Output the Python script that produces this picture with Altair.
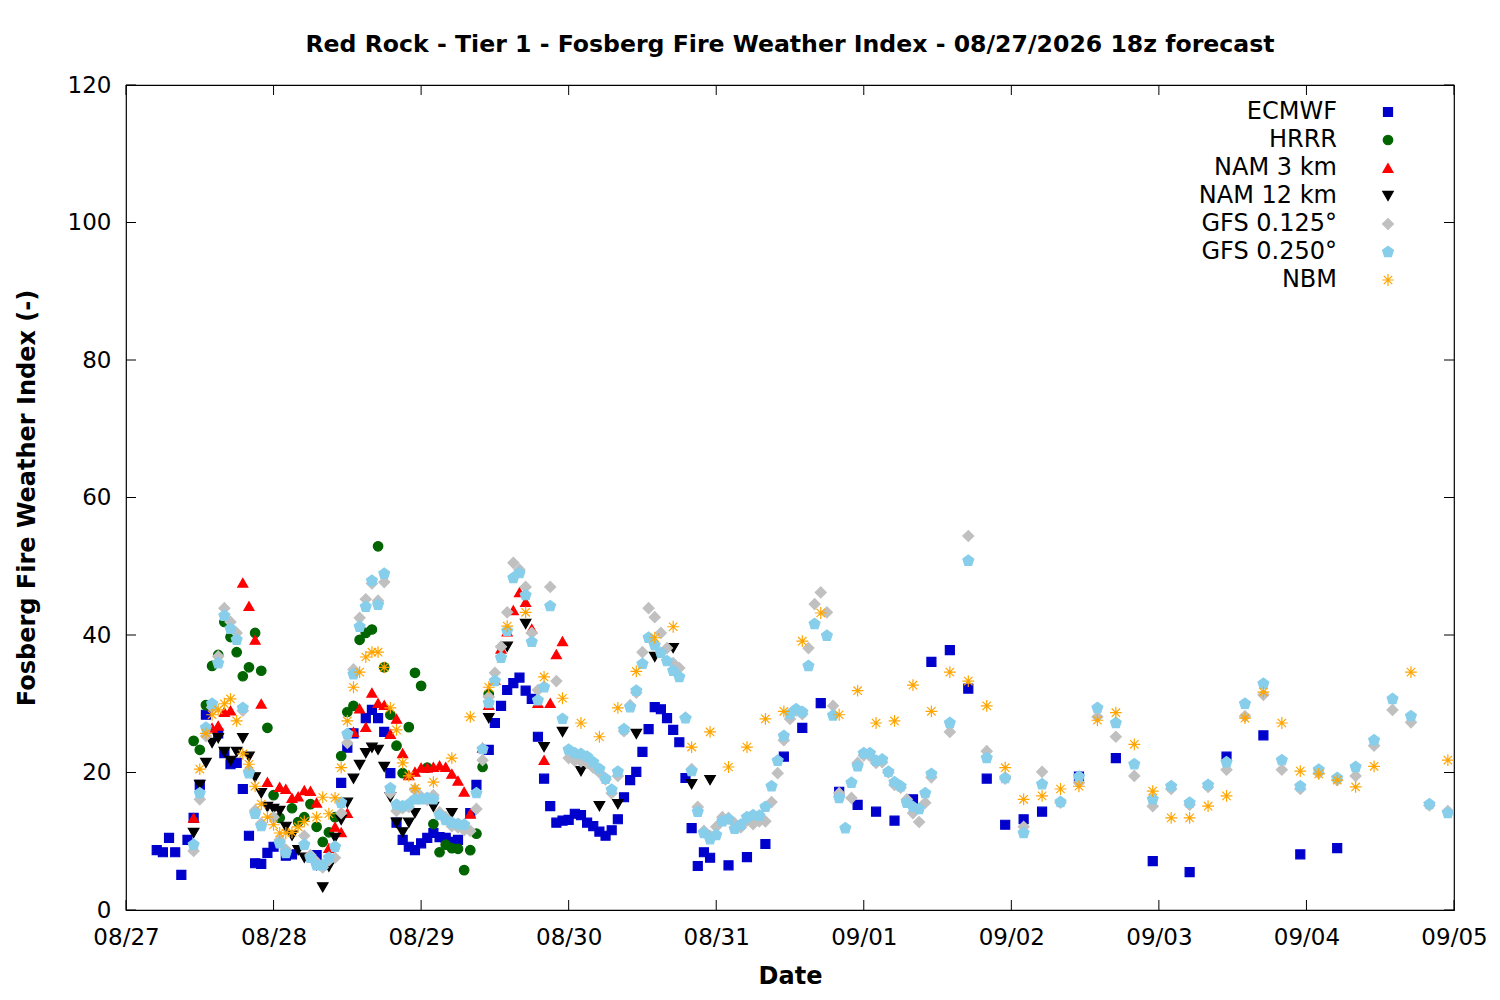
import pandas as pd
import altair as alt

# forecast hour (from 08/27 00z) and Fosberg index
ecmwf = [
    (5, 8.7), (6, 8.4), (7, 10.5), (8, 8.4), (9, 5.1), (10, 10.2), (11, 13.4), (12, 18.2),
    (13, 28.4), (15, 25.7), (16, 22.8), (17, 21.2), (18, 21.4), (19, 17.6), (20, 10.8),
    (21, 6.8), (22, 6.7), (23, 8.3), (24, 9.2), (26, 7.9), (27, 8.1), (31, 8.0), (35, 18.5),
    (36, 23.6), (37, 25.7), (39, 27.9), (40, 29.1), (41, 27.9), (42, 25.9), (43, 19.9),
    (44, 12.7), (45, 10.2), (46, 9.2), (47, 8.7), (48, 9.7), (49, 10.5), (50, 11.2), (51, 10.6),
    (52, 10.5), (53, 9.9), (54, 10.2), (56, 14.1), (57, 18.2), (59, 23.3), (60, 27.2), (61, 29.7),
    (62, 32.0), (63, 33.0), (64, 33.8), (65, 31.9), (66, 30.7), (67, 25.2), (68, 19.1), (69, 15.1),
    (70, 12.7), (71, 13.0), (72, 13.1), (73, 14.0), (74, 13.8), (75, 12.7), (76, 12.2), (77, 11.4),
    (78, 10.8), (79, 11.6), (80, 13.2), (81, 16.4), (82, 18.9), (83, 20.1), (84, 23.0), (85, 26.3),
    (86, 29.5), (87, 29.2), (88, 27.9), (89, 26.2), (90, 24.4), (91, 19.2), (92, 11.9), (93, 6.4),
    (94, 8.4), (95, 7.6), (98, 6.5), (101, 7.7), (104, 9.6), (107, 22.3), (110, 26.5), (113, 30.1),
    (116, 17.2), (119, 15.3), (122, 14.3), (125, 13.0), (128, 16.1), (131, 36.1), (134, 37.8),
    (137, 32.2), (140, 19.1), (143, 12.4), (146, 13.2), (149, 14.3), (155, 19.4), (161, 22.1),
    (167, 7.1), (173, 5.5), (179, 22.3), (185, 25.4), (191, 8.1), (197, 9.0),
]

hrrr = [
    (11, 24.6), (12, 23.3), (13, 29.8), (14, 35.5), (15, 37.1), (16, 41.9), (17, 39.7), (18, 37.5),
    (19, 34.0), (20, 35.3), (21, 40.3), (22, 34.8), (23, 26.5), (24, 16.7), (25, 13.4), (27, 14.8),
    (28, 12.8), (29, 13.5), (30, 15.4), (31, 12.1), (32, 9.9), (33, 11.3), (34, 13.5), (35, 22.4),
    (36, 28.8), (37, 29.7), (38, 39.3), (39, 40.3), (40, 40.8), (41, 52.9), (42, 35.3), (43, 28.4),
    (44, 23.9), (45, 19.9), (46, 26.6), (47, 34.5), (48, 32.6), (49, 20.7), (50, 12.5), (51, 8.4),
    (52, 9.5), (53, 9.0), (54, 8.9), (55, 5.8), (56, 8.7), (57, 11.1), (58, 20.8), (59, 31.4),
]

nam3 = [
    (11, 13.4), (14, 26.5), (15, 26.8), (16, 28.8), (17, 29.0), (19, 47.6), (20, 44.2), (21, 39.3),
    (22, 30.0), (23, 18.6), (25, 17.9), (26, 17.6), (27, 16.3), (28, 16.5), (29, 17.4), (30, 17.3),
    (31, 15.6), (33, 9.0), (34, 12.1), (35, 11.3), (36, 14.1), (37, 25.9), (38, 29.3), (39, 26.6),
    (40, 31.6), (41, 30.1), (42, 29.8), (43, 25.6), (44, 27.8), (45, 22.8), (46, 19.6), (47, 20.1),
    (48, 20.7), (49, 20.7), (50, 20.8), (51, 21.0), (52, 20.8), (53, 19.8), (54, 18.8), (55, 17.2),
    (56, 14.0), (58, 23.6), (59, 29.8), (60, 33.5), (61, 38.0), (62, 40.5), (63, 43.6), (64, 46.2),
    (65, 44.8), (66, 40.9), (67, 30.1), (68, 21.8), (69, 30.1), (70, 37.2), (71, 39.1),
]

nam12 = [
    (11, 11.2), (12, 18.2), (13, 21.4), (14, 24.3), (15, 25.0), (16, 23.0), (17, 21.7), (18, 23.0),
    (19, 25.0), (20, 22.3), (21, 19.3), (22, 17.0), (23, 15.0), (24, 14.7), (25, 14.4), (26, 12.1),
    (27, 10.8), (28, 8.7), (29, 7.6), (31, 6.5), (32, 3.3), (33, 6.3), (34, 10.5), (35, 13.1),
    (36, 15.6), (37, 19.1), (38, 21.1), (39, 22.8), (40, 23.6), (41, 23.3), (42, 20.8), (43, 16.4),
    (44, 12.7), (45, 11.3), (46, 12.7), (47, 14.1), (50, 15.0), (53, 14.1), (59, 27.9), (62, 38.3),
    (65, 41.6), (68, 23.7), (71, 25.9), (74, 20.2), (77, 15.1), (80, 15.4), (83, 25.6), (86, 36.8),
    (89, 38.1), (92, 18.3), (95, 18.9),
]

gfs0125 = [
    (11, 8.6), (12, 16.1), (13, 25.3), (14, 29.5), (15, 36.9), (16, 43.9), (17, 41.9), (18, 40.3),
    (19, 29.0), (20, 20.3), (21, 14.5), (22, 12.6), (24, 13.5), (25, 10.2), (26, 8.8), (29, 10.8),
    (30, 8.0), (31, 7.0), (32, 6.2), (33, 7.2), (34, 7.6), (35, 14.1), (36, 24.3), (37, 35.0),
    (38, 42.5), (39, 45.2), (40, 47.5), (41, 45.0), (42, 47.7), (43, 17.0), (44, 14.4), (45, 14.8),
    (46, 15.0), (47, 17.5), (48, 16.5), (49, 16.0), (50, 16.7), (51, 14.2), (52, 13.5), (53, 12.2),
    (54, 12.0), (55, 11.6), (56, 11.5), (57, 14.7), (58, 21.8), (59, 31.0), (60, 34.5), (61, 38.3),
    (62, 43.3), (63, 50.5), (64, 49.5), (65, 47.0), (66, 40.3), (67, 32.0), (69, 47.0), (70, 33.3),
    (72, 22.1), (73, 21.7), (74, 21.6), (75, 21.4), (76, 20.7), (77, 20.0), (78, 19.0), (79, 17.0),
    (80, 19.5), (81, 26.0), (82, 29.8), (83, 31.6), (84, 37.5), (85, 43.9), (86, 42.6), (87, 40.3),
    (88, 38.1), (89, 35.9), (90, 35.2), (91, 28.0), (92, 20.5), (93, 15.0), (94, 11.5), (95, 10.8),
    (96, 12.1), (97, 13.5), (98, 13.4), (99, 12.6), (100, 12.0), (101, 13.0), (102, 12.5),
    (103, 12.9), (104, 12.9), (105, 15.7), (106, 19.9), (107, 24.7), (108, 27.8), (109, 29.0),
    (110, 28.5), (111, 38.1), (112, 44.5), (113, 46.2), (114, 43.3), (115, 29.7), (116, 17.0),
    (118, 16.3), (119, 21.4), (120, 22.5), (121, 22.4), (122, 21.4), (123, 21.5), (124, 20.0),
    (125, 18.2), (126, 17.8), (127, 16.1), (128, 14.1), (129, 12.8), (130, 15.6), (131, 19.3),
    (134, 25.9), (137, 54.4), (140, 23.1), (143, 19.1), (146, 12.1), (149, 20.1), (152, 15.6),
    (155, 18.5), (158, 28.1), (161, 25.2), (164, 19.5), (167, 15.1), (170, 17.6), (173, 15.3),
    (176, 17.9), (179, 20.4), (182, 28.2), (185, 31.3), (188, 20.4), (191, 17.6), (194, 19.9),
    (197, 18.9), (200, 19.5), (203, 23.9), (206, 29.1), (209, 27.3), (212, 15.2), (215, 14.4),
]

gfs0250 = [
    (11, 9.5), (12, 17.0), (13, 26.5), (14, 30.0), (15, 35.9), (16, 42.8), (17, 40.9), (18, 39.3),
    (19, 29.4), (20, 19.9), (21, 14.0), (22, 12.2), (25, 9.7), (26, 8.3), (29, 9.5), (30, 7.6),
    (31, 6.5), (32, 6.5), (33, 7.6), (34, 9.2), (35, 15.6), (36, 25.6), (37, 34.3), (38, 41.2),
    (39, 44.1), (40, 47.9), (41, 44.4), (42, 48.9), (43, 17.7), (44, 15.3), (45, 15.1), (46, 15.4),
    (47, 16.1), (48, 16.1), (49, 16.3), (50, 16.1), (51, 13.8), (52, 13.1), (53, 12.7), (54, 12.5),
    (55, 12.4), (57, 17.0), (58, 23.4), (59, 30.1), (60, 33.3), (61, 36.7), (62, 40.6), (63, 48.3),
    (64, 49.0), (65, 45.8), (66, 39.0), (67, 30.5), (68, 32.4), (69, 44.2), (71, 27.8), (72, 23.3),
    (73, 22.8), (74, 22.7), (75, 22.3), (76, 21.5), (77, 20.5), (78, 19.1), (79, 17.5), (80, 20.1),
    (81, 26.3), (82, 29.5), (83, 31.9), (84, 35.8), (85, 39.6), (86, 38.5), (87, 37.4), (88, 36.2),
    (89, 34.8), (90, 33.9), (91, 27.9), (92, 20.2), (93, 14.3), (94, 11.2), (95, 10.3), (96, 10.9),
    (97, 12.9), (98, 13.2), (99, 11.8), (100, 12.4), (101, 13.5), (102, 13.8), (103, 13.7),
    (104, 15.0), (105, 18.0), (106, 21.7), (107, 25.3), (108, 28.5), (109, 29.2), (110, 28.8),
    (111, 35.5), (112, 41.6), (114, 39.9), (115, 28.3), (116, 16.3), (117, 11.9), (118, 18.5),
    (119, 20.9), (120, 22.8), (121, 22.8), (122, 21.7), (123, 21.9), (124, 20.1), (125, 18.6),
    (126, 18.0), (127, 15.6), (128, 15.0), (129, 14.7), (130, 17.0), (131, 19.8), (134, 27.2),
    (137, 50.8), (140, 22.1), (143, 19.2), (146, 11.2), (149, 18.3), (152, 15.7), (155, 19.4),
    (158, 29.4), (161, 27.2), (164, 21.2), (167, 16.1), (170, 18.0), (173, 15.6), (176, 18.2),
    (179, 21.5), (182, 30.0), (185, 32.9), (188, 21.8), (191, 18.0), (194, 20.4), (197, 19.2),
    (200, 20.8), (203, 24.7), (206, 30.7), (209, 28.2), (212, 15.4), (215, 14.1),
]

nbm = [
    (12, 20.5), (13, 25.7), (14, 28.4), (15, 29.1), (16, 30.0), (17, 30.7), (18, 27.5), (19, 22.7),
    (20, 21.2), (21, 18.0), (22, 15.4), (23, 13.5), (24, 12.4), (25, 11.2), (26, 11.2), (27, 11.3),
    (28, 12.1), (29, 12.9), (31, 13.5), (32, 16.4), (33, 14.0), (34, 16.3), (35, 20.7), (36, 27.5),
    (37, 32.4), (38, 34.6), (39, 36.8), (40, 37.5), (41, 37.5), (42, 35.3), (43, 29.4), (44, 26.2),
    (45, 21.4), (46, 19.5), (47, 17.7), (50, 18.6), (53, 22.1), (56, 28.1), (59, 32.4), (62, 41.3),
    (65, 43.3), (68, 33.9), (71, 30.8), (74, 27.2), (77, 25.2), (80, 29.4), (83, 34.7), (86, 39.6),
    (89, 41.2), (92, 23.7), (95, 25.9), (98, 20.8), (101, 23.7), (104, 27.8), (107, 28.9),
    (110, 39.1), (113, 43.2), (116, 28.4), (119, 31.9), (122, 27.2), (125, 27.5), (128, 32.7),
    (131, 28.9), (134, 34.6), (137, 33.3), (140, 29.7), (143, 20.7), (146, 16.1), (149, 16.6),
    (152, 17.6), (155, 18.0), (158, 27.6), (161, 28.7), (164, 24.1), (167, 17.3), (170, 13.4),
    (173, 13.4), (176, 15.1), (179, 16.6), (182, 27.9), (185, 31.7), (188, 27.2), (191, 20.2),
    (194, 19.8), (197, 18.9), (200, 17.9), (203, 20.9), (209, 34.6), (215, 21.8),
]

models = ["ECMWF", "HRRR", "NAM 3 km", "NAM 12 km", "GFS 0.125°", "GFS 0.250°", "NBM"]
series = [ecmwf, hrrr, nam3, nam12, gfs0125, gfs0250, nbm]
fills = ["#0000cd", "#006400", "#ff0000", "#000000", "#c0c0c0", "#87ceeb", "transparent"]
strokes = ["#0000cd", "#006400", "#ff0000", "#000000", "#c0c0c0", "#87ceeb", "#ffa500"]
pentagon = "M0,-1L0.951,-0.309L0.588,0.809L-0.588,0.809L-0.951,-0.309Z"
asterisk = "M-1,0L1,0M0,-1L0,1M-0.71,-0.71L0.71,0.71M-0.71,0.71L0.71,-0.71"
shapes = ["square", "circle", "triangle-up", "triangle-down", "diamond", pentagon, asterisk]
sizes = [81, 140, 170, 170, 130, 160, 260]

day_labels = ["08/27", "08/28", "08/29", "08/30", "08/31", "09/01", "09/02", "09/03", "09/04", "09/05"]
x_ticks = [24 * i for i in range(len(day_labels))]
y_ticks = [0, 20, 40, 60, 80, 100, 120]

rows = []
for i, (name, pts) in enumerate(zip(models, series)):
    for hour, val in pts:
        rows.append({"model": name, "idx": i, "hour": hour, "fwi": val})
df = pd.DataFrame(rows)
key = pd.DataFrame({"model": models, "idx": list(range(len(models)))})

W, H = 1328, 825
FONT = "DejaVu Sans"
x_scale = alt.Scale(domain=[0, 216], nice=False, zero=False)
y_scale = alt.Scale(domain=[0, 120], nice=False)
label_expr = "[" + ",".join(f"'{d}'" for d in day_labels) + "][round(datum.value / 24)]"
x_axis = alt.Axis(values=x_ticks, labelExpr=label_expr, ticks=False, tickSize=0,
                  labelFlush=False, labelBound=False, labelOverlap=False,
                  labelPadding=16, titlePadding=15, grid=False, domain=False)

fill_scale = alt.Scale(domain=models, range=fills)
stroke_scale = alt.Scale(domain=models, range=strokes)
shape_scale = alt.Scale(domain=models, range=shapes)
size_scale = alt.Scale(domain=models, range=sizes)

points = alt.Chart(df).mark_point(strokeWidth=1.2, opacity=1).encode(
    x=alt.X("hour:Q", scale=x_scale, title="Date", axis=x_axis),
    y=alt.Y("fwi:Q", scale=y_scale, title="Fosberg Fire Weather Index (-)",
            axis=alt.Axis(values=y_ticks, ticks=False, tickSize=0, labelPadding=15,
                          labelFlush=False, titlePadding=28, grid=False, domain=False)),
    fill=alt.Fill("model:N", scale=fill_scale, legend=None),
    stroke=alt.Stroke("model:N", scale=stroke_scale, legend=None),
    shape=alt.Shape("model:N", scale=shape_scale, legend=None),
    size=alt.Size("model:N", scale=size_scale, legend=None),
    order=alt.Order("idx:Q"),
)

# key in the top right corner, label to the left of its symbol as gnuplot draws it
key_y = alt.Y("idx:Q", scale=alt.Scale(domain=[0, 6], range=[27, 195]), axis=None)
key_text = alt.Chart(key).mark_text(
    align="right", baseline="middle", font=FONT, fontSize=24, color="black"
).encode(x=alt.value(1211), y=key_y, text="model:N")
key_symbols = alt.Chart(key).mark_point(strokeWidth=1.2, opacity=1).encode(
    x=alt.value(1262), y=key_y,
    fill=alt.Fill("model:N", scale=fill_scale, legend=None),
    stroke=alt.Stroke("model:N", scale=stroke_scale, legend=None),
    shape=alt.Shape("model:N", scale=shape_scale, legend=None),
    size=alt.Size("model:N", scale=size_scale, legend=None),
)

xt = pd.DataFrame({"hour": x_ticks})
yt = pd.DataFrame({"fwi": y_ticks})
tick_x = alt.X("hour:Q", scale=x_scale, title="Date", axis=x_axis)
tick_y = alt.Y("fwi:Q", scale=y_scale, axis=None)
tick_bottom = alt.Chart(xt).mark_rule(color="black").encode(x=tick_x, y=alt.value(H - 10), y2=alt.value(H))
tick_top = alt.Chart(xt).mark_rule(color="black").encode(x=tick_x, y=alt.value(0), y2=alt.value(10))
tick_left = alt.Chart(yt).mark_rule(color="black").encode(y=tick_y, x=alt.value(0), x2=alt.value(10))
tick_right = alt.Chart(yt).mark_rule(color="black").encode(y=tick_y, x=alt.value(W - 10), x2=alt.value(W))

chart = alt.layer(
    tick_bottom, tick_top, tick_left, tick_right, points, key_text, key_symbols
).resolve_scale(
    y="independent"
).properties(
    width=W,
    height=H,
    autosize=alt.AutoSizeParams(type="none"),
    padding={"left": 118, "top": 77, "right": 38, "bottom": 80},
    title=alt.TitleParams(
        "Red Rock - Tier 1 - Fosberg Fire Weather Index - 08/27/2026 18z forecast",
        font=FONT, fontSize=23.6, fontWeight="bold", anchor="middle", offset=17, color="black",
    ),
).configure_view(
    stroke="black", strokeWidth=1.2
).configure_axis(
    labelFont=FONT, labelFontSize=23, labelColor="black", labelFontWeight="normal",
    titleFont=FONT, titleFontSize=24, titleFontWeight="bold", titleColor="black",
)

chart.save("out.html", embed_options={"renderer": "svg", "actions": False})
